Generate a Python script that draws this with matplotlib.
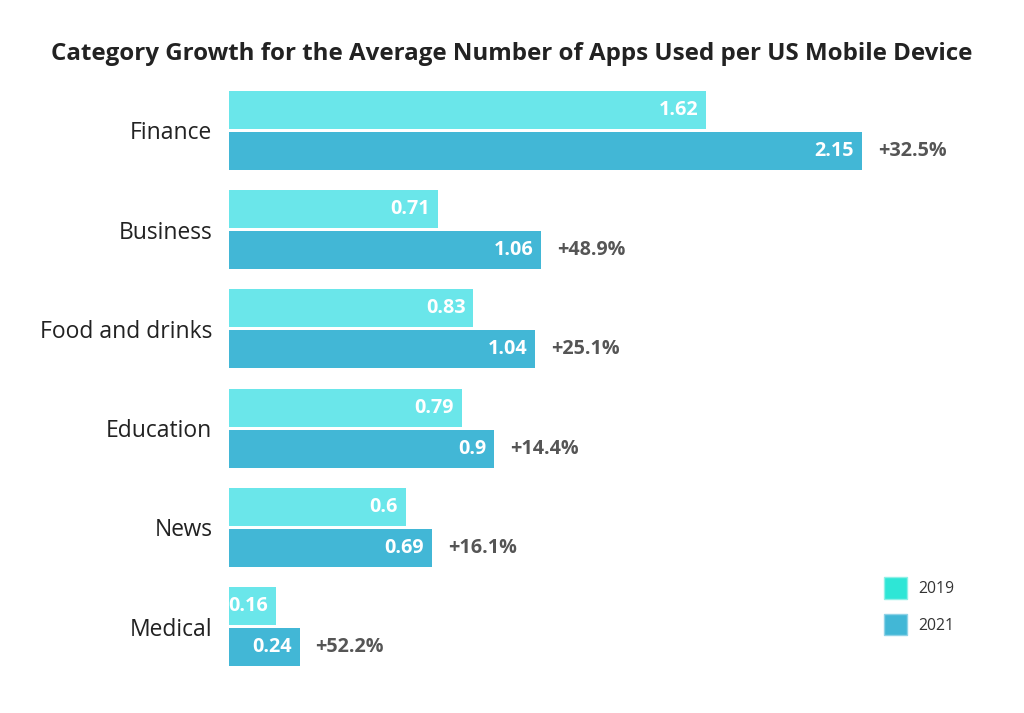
import os
import numpy as np
import matplotlib
matplotlib.use("Agg")
import matplotlib.pyplot as plt
from matplotlib.patches import Patch
from matplotlib.font_manager import FontProperties

categories = ["Finance", "Business", "Food and drinks", "Education", "News", "Medical"]
apps_2019 = [1.62, 0.71, 0.83, 0.79, 0.6, 0.16]
apps_2021 = [2.15, 1.06, 1.04, 0.9, 0.69, 0.24]
growth = ["+32.5%", "+48.9%", "+25.1%", "+14.4%", "+16.1%", "+52.2%"]
years = ["2019", "2021"]

FONT_DIR = "/usr/share/fonts/truetype/open-sans/"


def fuente(nombre, size, weight="normal"):
    ruta = FONT_DIR + nombre
    if os.path.exists(ruta):
        return FontProperties(fname=ruta, size=size)
    return FontProperties(family="Open Sans", weight=weight, size=size)


plt.rcParams['font.family'] = ['Open Sans', 'DejaVu Sans']

c19 = "#6ae6ea"
c21 = "#42b7d6"
leg19 = "#2ee6d6"

fig = plt.figure(figsize=(10.24, 7.13), dpi=100)
ax = fig.add_axes([229 / 1024, 1 - 680 / 713, (980 - 229) / 1024, 600 / 713])

y = np.arange(len(categories))
h = 0.383
off = 0.2067

ax.barh(y - off, apps_2019, height=h, color=c19)
ax.barh(y + off, apps_2021, height=h, color=c21)

fp_val = fuente("OpenSans-Bold.ttf", 14.2, "bold")
for i in range(len(categories)):
    ax.text(apps_2019[i] - 0.027, y[i] - off, f"{apps_2019[i]:g}", ha="right", va="center",
            color="white", fontproperties=fp_val)
    ax.text(apps_2021[i] - 0.027, y[i] + off, f"{apps_2021[i]:g}", ha="right", va="center",
            color="white", fontproperties=fp_val)
    ax.text(apps_2021[i] + 0.054, y[i] + off, growth[i], ha="left", va="center",
            color="#555555", fontproperties=fp_val)

ax.set_xlim(0, 751 / 294.4)
ax.set_ylim(5.539, -0.509)
ax.set_yticks(y)
ax.set_yticklabels(categories, color="#222222")
for lbl in ax.get_yticklabels():
    lbl.set_fontproperties(fuente("OpenSans-Regular.ttf", 16.5))
ax.tick_params(axis="y", length=0, pad=12)
ax.set_xticks([])
for s in ax.spines.values():
    s.set_visible(False)

handles = [Patch(facecolor=leg19, edgecolor="#8ff0e6", label=years[0]),
           Patch(facecolor=c21, edgecolor="#8fd2e6", label=years[1])]
fig.legend(handles=handles, loc="upper left", bbox_to_anchor=(870 / 1024, 1 - 563 / 713),
           frameon=False, prop=fuente("OpenSans-Regular.ttf", 11.3), handlelength=1.45,
           handleheight=1.75, labelspacing=0.95, handletextpad=0.75, labelcolor="#333333")

fig.text(512 / 1024, 1 - 54 / 713,
         "Category Growth for the Average Number of Apps Used per US Mobile Device",
         ha="center", va="center", color="#222222",
         fontproperties=fuente("OpenSans-Bold.ttf", 17.4, "bold"))

fig.savefig("out.png", dpi=100, facecolor="white")
